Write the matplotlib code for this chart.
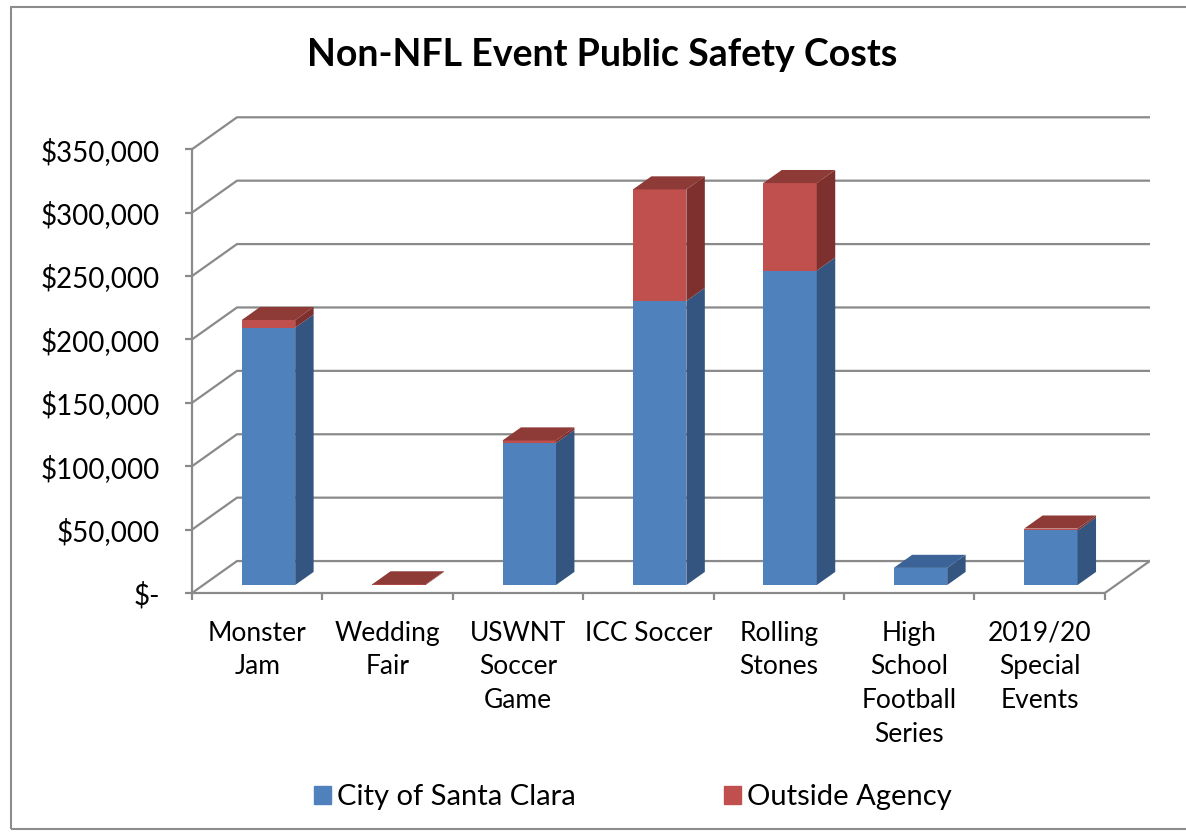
import numpy as np
import matplotlib
matplotlib.use("Agg")
import matplotlib.pyplot as plt
from matplotlib.patches import Polygon, Rectangle, Patch

plt.rcParams['font.family'] = ['Lato', 'DejaVu Sans']

# data
events = ['Monster\nJam', 'Wedding\nFair', 'USWNT\nSoccer\nGame', 'ICC Soccer',
          'Rolling\nStones', 'High\nSchool\nFootball\nSeries', '2019/20\nSpecial\nEvents']
city = [203000, 0, 112000, 224000, 248000, 13500, 43000]
outside = [6000, 500, 2000, 88000, 69000, 0, 1500]
y_ticks = [0, 50000, 100000, 150000, 200000, 250000, 300000, 350000]

title = 'Non-NFL Event Public Safety Costs'
series_names = ['City of Santa Clara', 'Outside Agency']

# colours (front, side, top)
BLUE = ('#4F81BD', '#34557F', '#3B6397')
RED = ('#C0504D', '#7E302E', '#8E3A37')
GRID = '#8A8A8A'

# fake 3d: depth offset of the floor, and where the bars sit in depth
DX, DY = 0.345, 25200
D0, D1 = 0.25, 0.66
W = 0.41

fig = plt.figure(figsize=(11.86, 8.32), dpi=100)
ax = fig.add_axes([192 / 1186, 239 / 832, 957.8 / 1186, 481.8 / 832])
ax.set_xlim(-0.5, 6.5 + DX)
ax.set_ylim(0, 380000)

n = len(events)
# back wall gridlines + left wall diagonals
for v in y_ticks:
    ax.plot([-0.5, -0.5 + DX, n - 0.5 + DX], [v, v + DY, v + DY],
            color=GRID, lw=1.6, zorder=1, solid_joinstyle='miter')
# right edge of the floor
ax.plot([n - 0.5, n - 0.5 + DX], [0, DY], color=GRID, lw=1.6, zorder=1)

for s in ['top', 'right']:
    ax.spines[s].set_visible(False)
for s in ['left', 'bottom']:
    ax.spines[s].set_color(GRID)
    ax.spines[s].set_linewidth(1.6)
ax.spines['left'].set_bounds(0, y_ticks[-1])
ax.spines['bottom'].set_bounds(-0.5, n - 0.5)

ax.set_yticks(y_ticks, ['$-' if v == 0 else f'${v:,.0f}' for v in y_ticks])
ax.tick_params(axis='y', length=5, width=1.6, color=GRID, pad=18, labelsize=20)
ax.set_xticks(range(n), events)
ax.set_xticks(np.arange(n + 1) - 0.5, minor=True)
ax.tick_params(axis='x', which='major', length=0, pad=20, labelsize=19)
ax.tick_params(axis='x', which='minor', length=5, width=1.6, color=GRID)
for lbl in ax.get_xticklabels():
    lbl.set_linespacing(1.43)

# bars: fronts via ax.bar, sides and tops as polygons from the same values
x = np.arange(n) + D0 * DX
city_a = np.array(city, dtype=float)
out_a = np.array(outside, dtype=float)
ax.bar(x, city_a, width=W, bottom=D0 * DY, color=BLUE[0], zorder=3)
ax.bar(x, out_a, width=W, bottom=city_a + D0 * DY, color=RED[0], zorder=3)

ddx = (D1 - D0) * DX
for i in range(n):
    x0 = x[i] - W / 2
    x1 = x[i] + W / 2
    segs = [(0, city_a[i], BLUE), (city_a[i], city_a[i] + out_a[i], RED)]
    segs = [sg for sg in segs if sg[1] > sg[0]]
    for b, t, cols in segs:
        side = [(x1, b + D0 * DY), (x1 + ddx, b + D1 * DY),
                (x1 + ddx, t + D1 * DY), (x1, t + D0 * DY)]
        ax.add_patch(Polygon(side, closed=True, fc=cols[1], ec='none', zorder=3))
    b, t, cols = segs[-1]
    top = [(x0, t + D0 * DY), (x0 + ddx, t + D1 * DY),
           (x1 + ddx, t + D1 * DY), (x1, t + D0 * DY)]
    ax.add_patch(Polygon(top, closed=True, fc=cols[2], ec='none', zorder=3))

fig.text(602 / 1186, 1 - 55 / 832, title, ha='center', va='center',
         fontsize=27, fontweight='bold')

fig.legend(handles=[Patch(color=BLUE[0], label=series_names[0]),
                    Patch(color=RED[0], label=series_names[1])],
           loc='center', bbox_to_anchor=(633 / 1186, 1 - 797 / 832), ncol=2,
           frameon=False, fontsize=21, handlelength=0.58, handleheight=0.58,
           handletextpad=0.2, columnspacing=5.1)

fig.add_artist(Rectangle((11 / 1186, 3 / 832), 1.2, 1 - 10 / 832,
                         transform=fig.transFigure, fill=False,
                         ec='#8C8C8C', lw=1.5))

fig.savefig('out.png', dpi=100)
